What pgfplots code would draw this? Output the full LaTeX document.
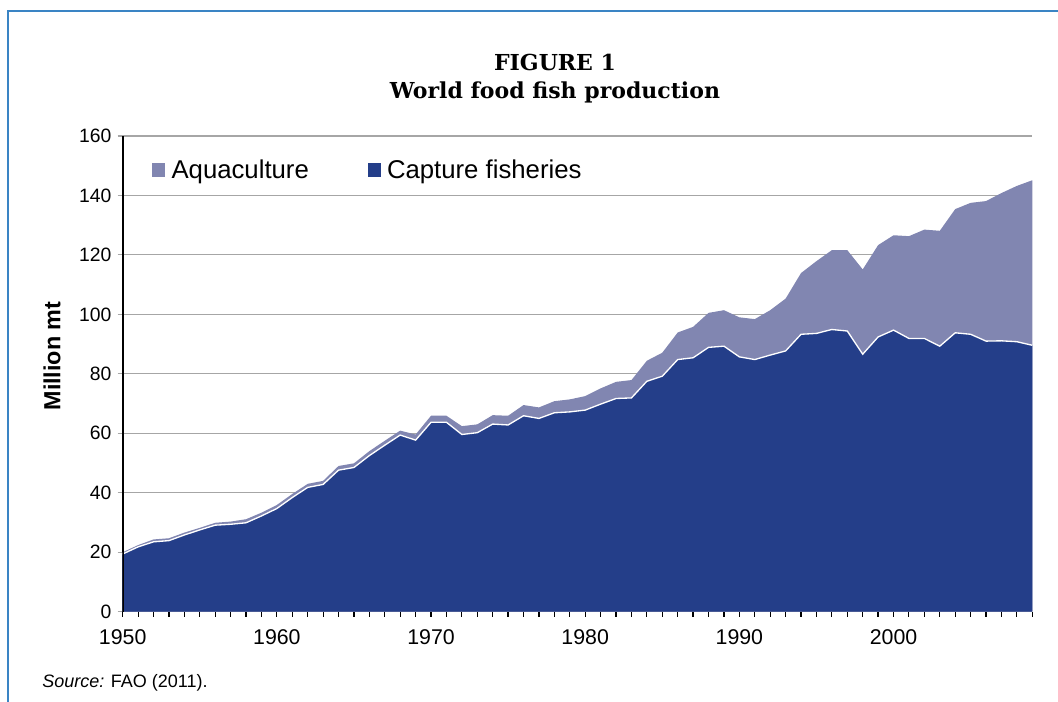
\documentclass[border=0pt]{standalone}
\usepackage{fontspec}
\setmainfont{Liberation Sans}
\newfontfamily\titlefont{DejaVu Serif}[BoldFont={DejaVu Serif Bold}]
\usepackage{pgfplots}
\usepackage{pgfplotstable}
\pgfplotsset{compat=1.18}
\definecolor{capblue}{RGB}{36,62,137}
\definecolor{aqua}{RGB}{129,134,177}
\definecolor{gridgray}{RGB}{166,166,166}
\definecolor{frameblue}{RGB}{58,132,196}

\pgfplotstableread{
year capture total
1950 19.4 20.0
1951 21.8 22.4
1952 23.5 24.3
1953 23.9 24.7
1954 25.8 26.6
1955 27.5 28.2
1956 29.1 29.9
1957 29.4 30.3
1958 29.9 31.1
1959 32.2 33.3
1960 34.7 35.9
1961 38.4 39.6
1962 41.8 43.0
1963 42.8 44.0
1964 47.6 49.0
1965 48.5 49.9
1966 52.5 54.0
1967 56.0 57.5
1968 59.4 60.9
1969 57.7 59.6
1970 63.7 65.9
1971 63.7 65.9
1972 59.6 62.4
1973 60.2 63.0
1974 63.1 66.1
1975 62.8 65.9
1976 65.9 69.5
1977 65.0 68.7
1978 66.9 70.8
1979 67.2 71.4
1980 67.8 72.5
1981 69.8 75.1
1982 71.7 77.3
1983 71.9 77.9
1984 77.5 84.4
1985 79.2 87.1
1986 84.8 93.9
1987 85.4 95.8
1988 88.9 100.5
1989 89.3 101.4
1990 85.7 99.0
1991 84.8 98.4
1992 86.3 101.4
1993 87.7 105.3
1994 93.3 113.9
1995 93.6 117.9
1996 94.9 121.6
1997 94.4 121.6
1998 86.6 115.1
1999 92.4 123.3
2000 94.7 126.6
2001 91.9 126.3
2002 91.9 128.5
2003 89.3 128.1
2004 93.8 135.4
2005 93.3 137.5
2006 91.0 138.1
2007 91.1 140.8
2008 90.8 143.2
2009 89.6 145.1
}\fishdata

\begin{document}
\begin{tikzpicture}
\begin{axis}[
  scale only axis,
  width=682.2pt, height=356.8pt,
  xmin=1950, xmax=2009, ymin=0, ymax=160,
  axis x line*=bottom, axis y line*=left,
  x axis line style={gridgray, line width=1pt},
  y axis line style={black, line width=1.3pt},
  xtick={1950,1960,...,2000},
  minor xtick={1951,1952,...,2009},
  ytick={0,20,...,160},
  tick align=outside,
  major tick length=3.9pt, minor tick length=3.9pt,
  xtick style={black, line width=0.9pt},
  ytick style={gridgray, line width=0.9pt},
  ymajorgrids, grid style={gridgray, line width=0.9pt},
  /pgf/number format/assume math mode=true,
  /pgf/number format/1000 sep={},
  x tick label style={font=\fontsize{16}{18}\selectfont, yshift=-6pt},
  y tick label style={font=\fontsize{14.5}{17}\selectfont, xshift=-1pt},
  legend columns=2,
  legend cell align=left,
  legend image code/.code={\fill[#1] (0pt,-4.9pt) rectangle (9.8pt,4.9pt); \path (12.6pt,0pt);},
  legend style={draw=none, fill=none, inner sep=0pt,
    at={(rel axis cs:0.032,0.9285)}, anchor=west,
    font=\fontsize{19.3}{22}\selectfont,
    /tikz/every even column/.append style={column sep=42pt}},
]
\addplot[fill=aqua, draw=none] table[x=year, y=total] {\fishdata} \closedcycle;
\addlegendentry{Aquaculture}
\addplot[fill=capblue, draw=none] table[x=year, y=capture] {\fishdata} \closedcycle;
\addlegendentry{Capture fisheries}
\addplot[white, line width=1pt, forget plot] table[x=year, y=capture] {\fishdata};
\draw[black, line width=1.3pt] (rel axis cs:0,0) -- (rel axis cs:0,1);
\end{axis}
\begin{scope}[x=0.75pt, y=-0.75pt, shift={(-122.7,-611.7)}]
  \path[use as bounding box] (0,0) rectangle (1058,702);
  \draw[frameblue, line width=1.5pt] (8,702) -- (8,11) -- (1058,11);
  \node[font=\titlefont\bfseries\fontsize{16.5}{19}\selectfont] at (555,63) {FIGURE 1};
  \node[font=\titlefont\bfseries\fontsize{16.5}{19}\selectfont] at (555,92) {World food fish production};
  \node[rotate=90, font=\bfseries\fontsize{17.5}{20}\selectfont] at (52,356) {Million mt};
  \node[anchor=west, inner sep=0pt, font=\fontsize{13.5}{15}\selectfont] at (42,683) {\textit{Source:} FAO (2011).};
\end{scope}
\end{tikzpicture}
\end{document}
